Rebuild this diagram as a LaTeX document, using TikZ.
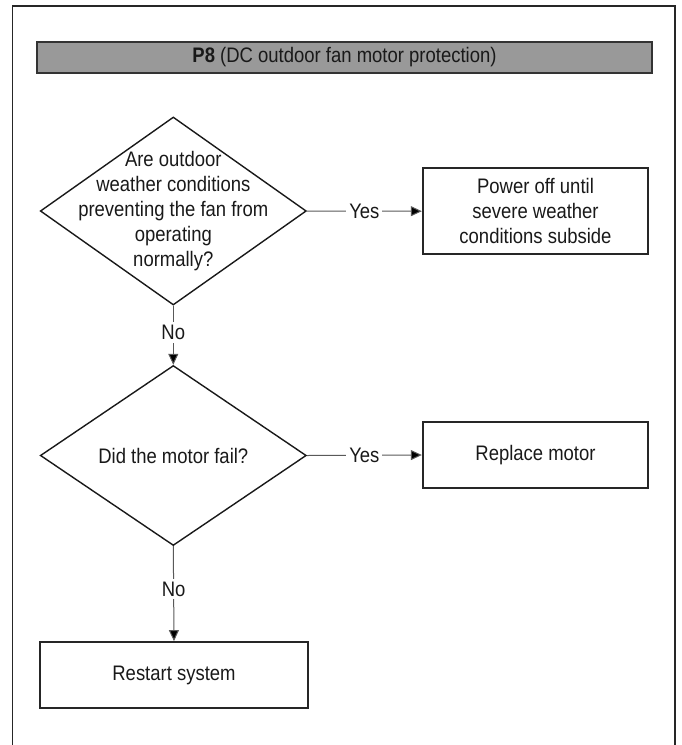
\documentclass[tikz,border=0pt]{standalone}
\usepackage{fontspec}
\setmainfont[FakeStretch=0.88]{Liberation Sans}
\usetikzlibrary{shapes.geometric,arrows.meta}
\tikzset{
  txt/.style={font=\fontsize{21}{25}\selectfont, text=black!90, align=center},
  dia/.style={diamond, draw=black!90, line width=1.4pt, inner sep=0pt},
  proc/.style={rectangle, draw=black!85, line width=1.8pt, inner sep=0pt},
  conn/.style={draw=black!65, line width=1pt, -{Triangle[length=11pt,width=10pt,fill=black]}},
  lab/.style={txt, fill=white, inner sep=3pt},
}
\begin{document}
\begin{tikzpicture}[x=1pt,y=-1pt]
\useasboundingbox (0,0) rectangle (681,745);
% frame (open at bottom)
\draw[line width=1.5pt, draw=black!85] (12.5,745) -- (12.5,6) -- (675,6) -- (675,745);
% header
\node[rectangle, draw=black!80, fill=black!40, line width=1.5pt, minimum width=615pt, minimum height=31pt, inner sep=0pt] (hdr) at (344.5,57.5) {};
\node[txt] (hdrt) at (hdr.center) {\textbf{P8} (DC outdoor fan motor protection)};
% decision 1
\node[dia, minimum width=266pt, minimum height=188pt] (d1) at (173.3,211) {};
\node[txt] (d1t) at (d1.center) {Are outdoor\\weather conditions\\preventing the fan from\\operating\\normally?};
% box 1
\node[proc, minimum width=225.6pt, minimum height=85.7pt] (b1) at (535.5,211.2) {};
\node[txt] (b1t) at (b1.center) {Power off until\\severe weather\\conditions subside};
% decision 2
\node[dia, minimum width=266pt, minimum height=180pt] (d2) at (173.3,455.5) {};
\node[txt] (d2t) at (d2.center) {Did the motor fail?};
% box 2
\node[proc, minimum width=225.6pt, minimum height=66.6pt] (b2) at (535.5,455) {};
\node[txt] (b2t) at (b2.center) {Replace motor};
% box 3
\node[proc, minimum width=268pt, minimum height=66pt] (b3) at (174,675) {};
\node[txt] (b3t) at (b3.center) {Restart system};
% connectors
\draw[conn] (d1.east) -- node[lab] (y1) {Yes} (b1.west);
\draw[conn] (d2.east) -- node[lab] (y2) {Yes} (b2.west);
\draw[conn] (d1.south) -- node[lab, pos=0.45] (n1) {No} (d2.north);
\draw[conn] (d2.south) -- node[lab, pos=0.45] (n2) {No} (b3.north);
\end{tikzpicture}
\end{document}
